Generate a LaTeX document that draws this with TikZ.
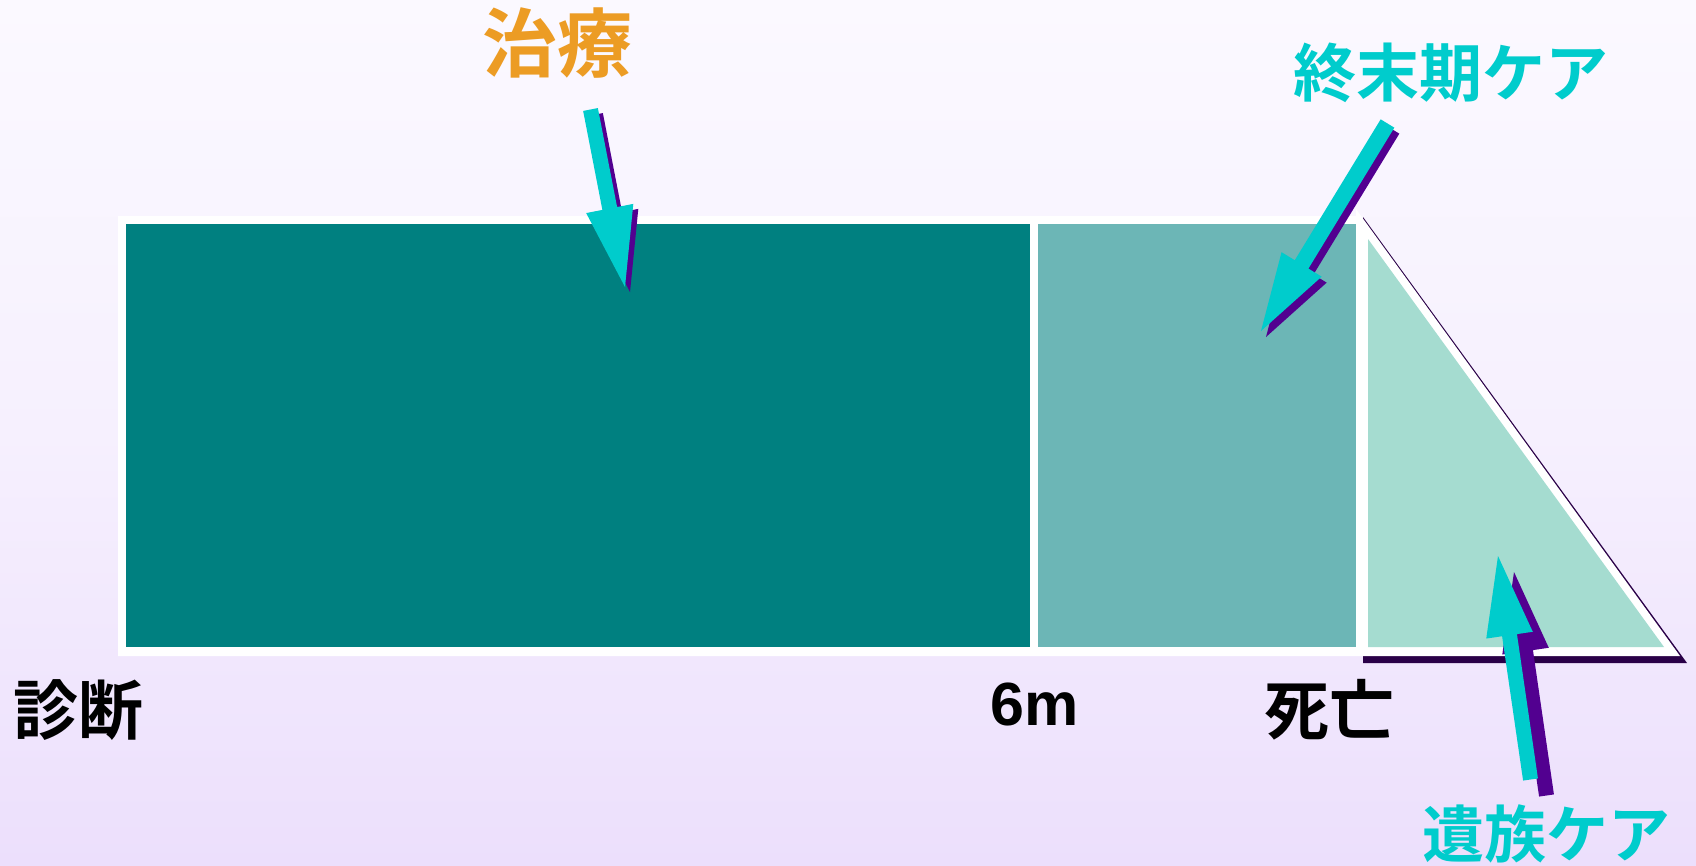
\documentclass[tikz,border=0pt]{standalone}
\usepackage{fontspec}
\newfontfamily\cjk{Noto Sans CJK JP}[BoldFont={Noto Sans CJK JP Bold}]
\newfontfamily\latinb{Liberation Sans}
\usetikzlibrary{calc}
\definecolor{bgtop}{RGB}{251,249,255}
\definecolor{bgmid}{RGB}{246,240,254}
\definecolor{bgbot}{RGB}{236,223,252}
\definecolor{tealdark}{RGB}{0,128,128}
\definecolor{tealmid}{RGB}{108,182,182}
\definecolor{teallight}{RGB}{165,220,208}
\definecolor{arrowcyan}{RGB}{0,204,204}
\definecolor{arrowpurple}{RGB}{82,0,144}
\definecolor{shadowdark}{RGB}{42,0,72}
\definecolor{labelorange}{RGB}{236,156,36}
% #1,#2 tail centre; #3,#4 tip; #5 shaft half width; #6 head half width; #7 head length; #8 style
\newcommand\blockarrow[8]{%
  \coordinate (ba-t) at (#1,#2);
  \coordinate (ba-p) at (#3,#4);
  \coordinate (ba-h) at ($(ba-p)!#7!(ba-t)$);
  \fill[#8] ($(ba-t)!#5!90:(ba-p)$) -- ($(ba-h)!#5!90:(ba-p)$) -- ($(ba-h)!#6!90:(ba-p)$)
    -- (ba-p) -- ($(ba-h)!#6!-90:(ba-p)$) -- ($(ba-h)!#5!-90:(ba-p)$) -- ($(ba-t)!#5!-90:(ba-p)$) -- cycle;
}
\begin{document}
\begin{tikzpicture}[x=1pt,y=-1pt,
  cjklabel/.style={inner sep=0pt, font=\cjk\bfseries\fontsize{#1}{#1}\selectfont},
  shadowfill/.style={fill=arrowpurple},
  arrowfill/.style={fill=arrowcyan}]
\useasboundingbox (0,0) rectangle (1696,865);
\shade[top color=bgtop, bottom color=bgbot, middle color=bgmid] (0,0) rectangle (1696,865);

% triangle shadow
\fill[shadowdark] (1356+7,209+8) -- (1680+7,655+8) -- (1356+7,655+8) -- cycle;
% white outline region
\fill[white] (118,216) -- (1356,216) -- (1356,209) -- (1680,656) -- (118,656) -- cycle;
% phases
\fill[tealdark] (126,224) rectangle (1030,647);
\fill[tealmid] (1038,224) rectangle (1356,647);
\fill[teallight] (1368,239) -- (1664,647) -- (1368,647) -- cycle;

% arrows
\blockarrow{590.5+5}{109.5+5}{625+5}{287+5}{7.5pt}{24pt}{80pt}{shadowfill}
\blockarrow{590.5}{109.5}{625}{287}{7.5pt}{24pt}{80pt}{arrowfill}
\blockarrow{1387.5+5}{123.5+6}{1261+5}{331+6}{8pt}{23.5pt}{78pt}{shadowfill}
\blockarrow{1387.5}{123.5}{1261}{331}{8pt}{23.5pt}{78pt}{arrowfill}
\blockarrow{1530.5+16}{779.5+16}{1498+16}{556+16}{7.5pt}{23.5pt}{80pt}{shadowfill}
\blockarrow{1530.5}{779.5}{1498}{556}{7.5pt}{23.5pt}{80pt}{arrowfill}

% labels
\node[cjklabel=75, text=labelorange] (treat) at (557,43) {治療};
\node[cjklabel=63, text=arrowcyan] (terminal) at (1451,73) {終末期ケア};
\node[cjklabel=62, text=arrowcyan] (bereave) at (1546,834) {遺族ケア};
\node[cjklabel=65, text=black] (diag) at (78.5,710) {診断};
\node[cjklabel=65, text=black] (death) at (1329,710) {死亡};
\node[inner sep=0pt, font=\latinb\bfseries\fontsize{61}{61}\selectfont] (six) at (1035,704) {6m};
\end{tikzpicture}
\end{document}
